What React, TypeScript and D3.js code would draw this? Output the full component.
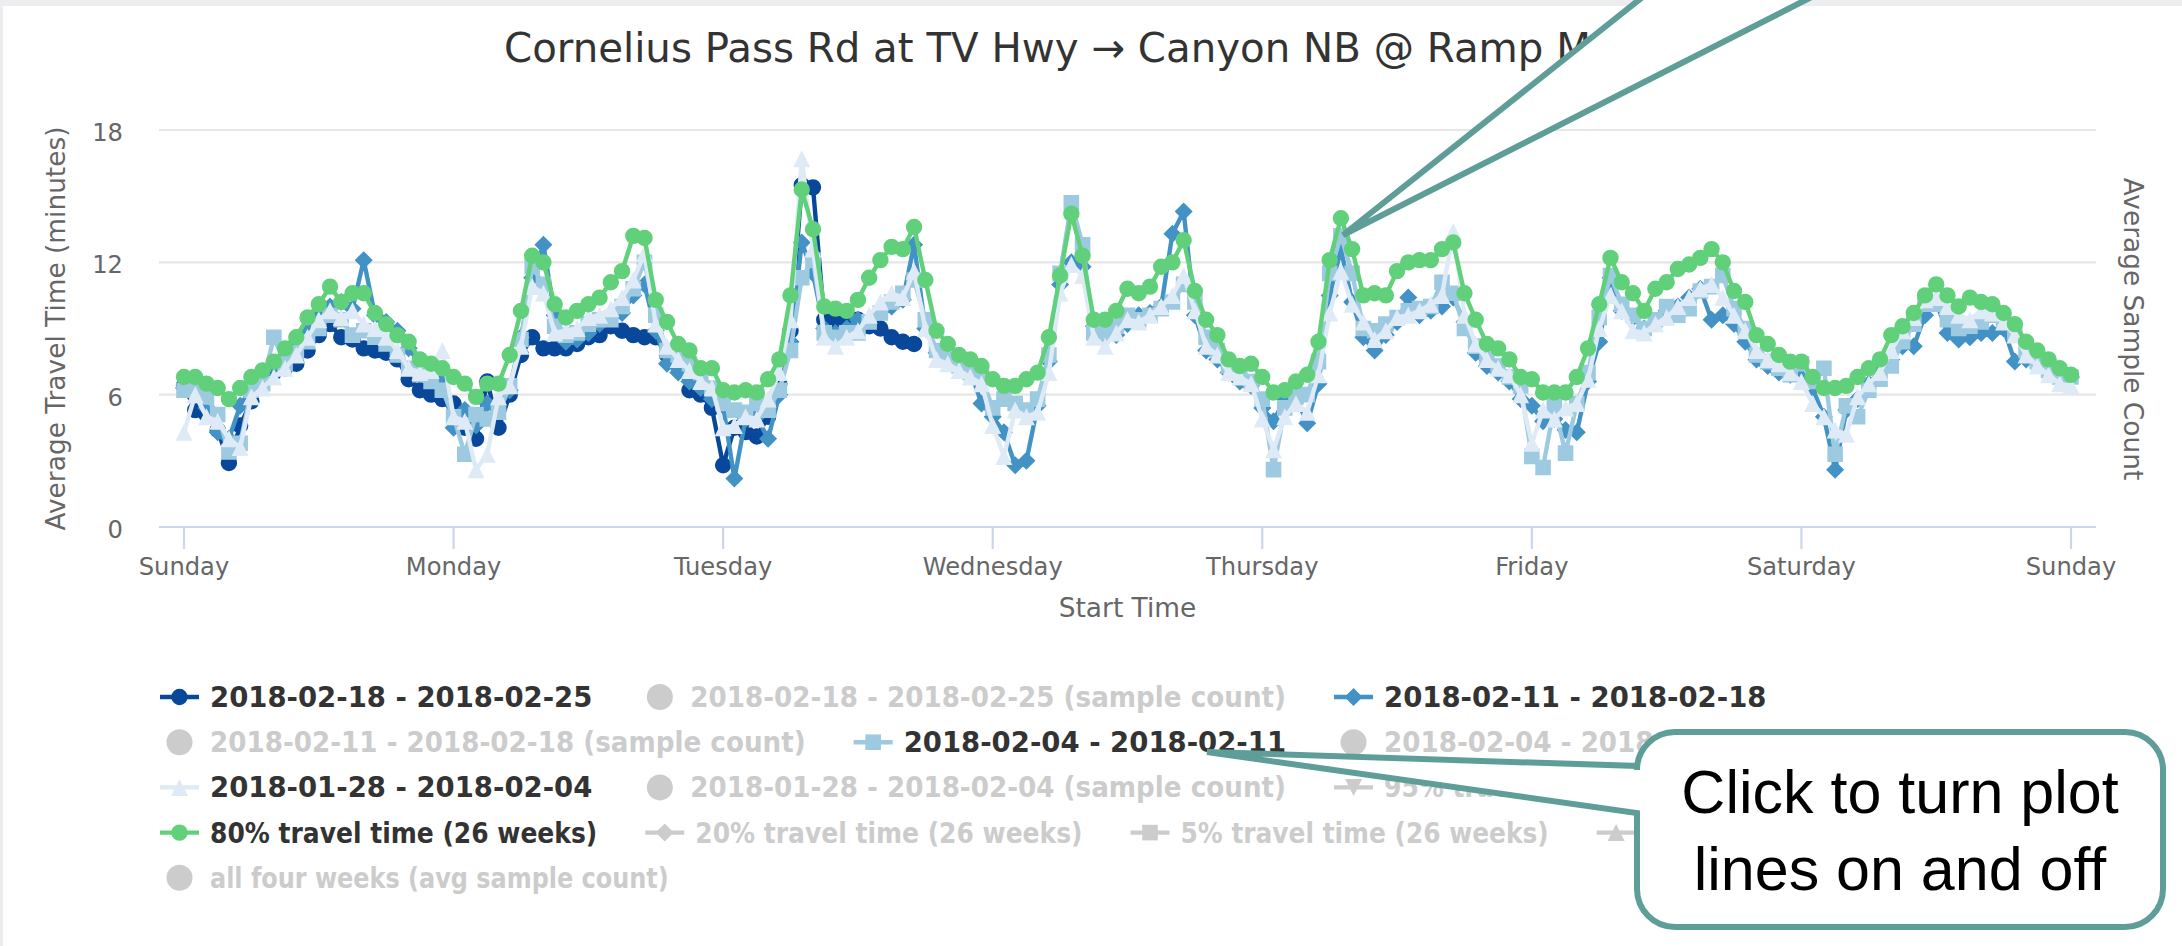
import React from "react";
import * as d3 from "d3";

// ---------------- data ----------------
const dayLabels = ["Sunday", "Monday", "Tuesday", "Wednesday", "Thursday", "Friday", "Saturday", "Sunday"];
const dayTickHours = [0, 24, 48, 72, 96, 120, 144, 168];
const yTickValues = [0, 6, 12, 18];

// hourly average travel time (minutes), hour 0 = Sunday 00:00
const week_0218_0225 = [
  6.4, 5.3, 5.1, 4.4, 2.9, 4.6, 5.7, 6.8, 7.0, 7.2, 7.4, 8.0, 8.7, 9.2, 8.6, 8.5, 8.1, 8.0, 7.9, 7.6, 6.7, 6.2, 6.0, 5.8,
  5.6, 4.5, 4.0, 6.6, 4.5, 6.0, 7.8, 8.6, 8.1, 8.1, 8.1, 8.3, 8.6, 8.7, 9.1, 8.9, 8.7, 8.6, 8.6, 7.8, 7.3, 6.2, 6.0, 5.4,
  2.8, 4.5, 4.3, 4.1, 5.0, 6.5, 8.9, 15.5, 15.4, 9.4, 9.3, 9.2, 9.4, 9.1, 9.0, 8.6, 8.4, 8.3,
];
const week_0211_0218 = [
  6.3, 6.0, 5.4, 4.3, 4.0, 5.5, 6.3, 6.9, 7.3, 7.7, 8.4, 9.0, 9.6, 10.0, 10.2, 9.9, 12.1, 9.6, 9.3, 8.9, 8.1, 7.4, 7.0, 6.6,
  4.5, 5.3, 4.6, 5.6, 5.3, 6.2, 8.6, 11.3, 12.8, 9.6, 8.4, 8.5, 8.8, 9.2, 9.5, 9.7, 10.5, 11.0, 8.9, 7.4, 7.0, 6.6, 6.3, 5.8,
  5.5, 2.2, 4.9, 5.0, 4.0, 6.0, 8.4, 12.9, 11.5, 9.0, 8.8, 9.0, 9.4, 9.4, 9.8, 10.0, 10.3, 12.8, 9.0, 7.9, 7.6, 7.4, 7.1, 5.6,
  5.0, 4.3, 2.8, 3.0, 5.5, 7.5, 11.0, 12.0, 11.8, 9.1, 8.6, 8.7, 9.2, 9.6, 9.7, 10.0, 13.3, 14.3, 9.6, 8.0, 7.6, 7.0, 6.6, 6.4,
  5.4, 4.8, 5.8, 5.9, 4.7, 6.5, 10.5, 12.6, 10.2, 8.6, 8.0, 8.7, 9.3, 10.4, 9.6, 9.8, 10.0, 10.4, 9.3, 7.9, 7.3, 7.0, 6.6, 5.8,
  5.5, 4.8, 4.9, 4.4, 4.3, 6.6, 8.4, 11.3, 9.8, 9.5, 9.0, 9.3, 9.8, 10.0, 10.4, 10.8, 9.4, 9.6, 9.2, 8.4, 7.6, 7.3, 7.0, 6.9,
  6.8, 6.3, 5.0, 2.6, 5.3, 5.8, 6.5, 7.1, 7.6, 8.2, 8.2, 9.6, 10.2, 8.8, 8.5, 8.6, 8.8, 8.8, 9.0, 7.5, 7.6, 7.4, 7.1, 6.8, 6.8,
];
const week_0204_0211 = [
  6.2, 6.3, 5.9, 5.1, 3.4, 3.8, 6.2, 6.5, 8.6, 7.4, 7.9, 8.4, 9.0, 9.6, 9.4, 8.7, 8.9, 8.6, 8.3, 7.8, 7.2, 6.9, 6.6, 6.2,
  5.0, 3.3, 5.1, 4.9, 5.2, 6.4, 8.5, 11.8, 11.0, 9.1, 8.7, 8.8, 9.2, 9.4, 9.4, 10.0, 10.8, 12.0, 9.6, 8.0, 7.8, 7.4, 7.0, 6.3,
  5.6, 5.3, 5.2, 5.6, 5.3, 6.2, 8.0, 11.3, 12.1, 8.8, 8.6, 8.8, 8.8, 9.3, 9.7, 10.2, 10.6, 11.2, 9.4, 8.0, 7.6, 7.3, 7.0, 6.8,
  5.4, 5.8, 5.6, 5.3, 5.8, 7.8, 11.5, 14.7, 12.8, 8.8, 8.8, 9.1, 9.6, 9.4, 9.6, 9.9, 10.2, 11.0, 10.2, 8.6, 8.0, 7.3, 7.0, 6.6,
  5.8, 2.6, 5.4, 5.9, 6.0, 7.5, 11.5, 13.2, 11.5, 9.0, 8.9, 9.2, 9.5, 9.8, 9.9, 10.0, 11.1, 10.6, 9.0, 8.2, 7.6, 7.3, 6.8, 6.4,
  3.2, 2.7, 5.5, 3.35, 5.6, 7.0, 9.5, 11.4, 10.1, 9.6, 9.0, 9.4, 10.0, 9.6, 9.9, 10.7, 10.9, 11.4, 9.9, 9.0, 7.8, 7.5, 7.2, 6.9,
  7.4, 6.6, 7.2, 3.3, 5.5, 5.0, 6.2, 6.7, 7.3, 8.4, 9.2, 10.1, 10.1, 9.4, 9.0, 9.1, 9.3, 9.6, 9.4, 8.8, 8.0, 7.5, 7.1, 6.8, 6.8,
];
const week_0128_0204 = [
  4.3, 6.0, 5.0, 4.8, 4.0, 3.6, 5.9, 6.3, 6.8, 7.2, 7.8, 8.6, 9.4, 9.8, 9.5, 9.8, 9.2, 9.0, 8.6, 8.0, 7.2, 7.0, 7.1, 8.0,
  5.0, 4.8, 2.6, 3.3, 5.9, 6.4, 8.2, 10.9, 10.6, 8.8, 8.9, 9.0, 9.5, 9.6, 9.9, 10.4, 11.2, 12.4, 9.2, 8.2, 7.6, 7.1, 6.6, 6.3,
  4.5, 4.6, 5.0, 4.9, 5.8, 7.0, 9.4, 16.7, 12.6, 8.6, 8.2, 8.6, 8.9, 9.6, 10.2, 10.6, 10.4, 11.6, 9.0, 7.6, 7.4, 7.1, 6.8, 6.5,
  4.6, 3.2, 5.3, 5.0, 5.2, 7.0, 10.6, 11.9, 11.4, 8.6, 8.2, 8.8, 9.4, 9.3, 9.6, 10.0, 10.5, 11.4, 9.8, 8.2, 7.8, 7.0, 6.8, 6.5,
  4.9, 3.5, 5.0, 5.6, 5.2, 6.9, 9.7, 11.6, 10.1, 9.3, 8.5, 8.9, 9.5, 9.6, 9.8, 10.1, 10.5, 13.4, 9.6, 8.3, 7.6, 7.2, 6.9, 6.0,
  3.8, 5.3, 4.9, 5.4, 5.6, 6.7, 9.0, 10.5, 9.8, 8.9, 8.8, 9.2, 9.5, 10.0, 10.4, 10.8, 11.0, 10.4, 9.6, 8.9, 8.0, 7.6, 7.4, 7.0,
  6.6, 5.6, 5.0, 4.4, 4.2, 5.9, 6.5, 7.0, 8.0, 8.9, 9.5, 10.3, 10.4, 10.0, 9.6, 9.4, 9.8, 9.7, 9.3, 8.7, 7.8, 7.3, 6.9, 6.5, 6.4,
];
const travel80_26wk = [
  6.8, 6.8, 6.5, 6.3, 5.8, 6.3, 6.8, 7.1, 7.5, 8.1, 8.6, 9.5, 10.1, 10.9, 10.2, 10.6, 10.6, 9.7, 9.2, 8.7, 8.4, 7.6, 7.4, 7.2,
  6.8, 6.5, 5.9, 6.5, 6.5, 7.8, 9.8, 12.3, 12.0, 10.1, 9.5, 9.8, 10.1, 10.4, 11.1, 11.6, 13.2, 13.1, 10.3, 9.3, 8.3, 8.0, 7.2, 7.2,
  6.2, 6.1, 6.2, 6.1, 6.7, 7.6, 10.5, 15.3, 13.5, 10.0, 9.9, 9.8, 10.3, 11.3, 12.1, 12.7, 12.6, 13.6, 11.2, 8.9, 8.3, 7.8, 7.6, 7.3,
  6.7, 6.4, 6.4, 6.7, 7.0, 8.6, 11.4, 14.2, 12.3, 9.4, 9.4, 9.8, 10.8, 10.6, 10.9, 11.8, 12.0, 13.0, 10.7, 9.4, 8.7, 7.6, 7.3, 7.4,
  6.8, 6.1, 6.2, 6.6, 6.9, 8.4, 12.1, 14.0, 12.6, 10.5, 10.6, 10.5, 11.6, 12.0, 12.1, 12.1, 12.6, 12.9, 10.6, 9.4, 8.3, 8.1, 7.6, 6.8,
  6.7, 6.1, 6.1, 6.1, 6.8, 8.1, 10.1, 12.2, 11.1, 10.6, 9.8, 10.8, 11.1, 11.7, 11.9, 12.2, 12.6, 12.0, 10.7, 10.2, 8.7, 8.3, 7.8, 7.5,
  7.5, 6.8, 6.3, 6.3, 6.4, 6.8, 7.2, 7.6, 8.7, 9.1, 9.7, 10.5, 11.0, 10.5, 10.0, 10.4, 10.2, 10.1, 9.7, 9.2, 8.4, 8.0, 7.6, 7.2, 6.9,
];

const legendLabels = [
  "2018-02-18 - 2018-02-25",
  "2018-02-18 - 2018-02-25 (sample count)",
  "2018-02-11 - 2018-02-18",
  "2018-02-11 - 2018-02-18 (sample count)",
  "2018-02-04 - 2018-02-11",
  "2018-02-04 - 2018-02-11 (sample count)",
  "2018-01-28 - 2018-02-04",
  "2018-01-28 - 2018-02-04 (sample count)",
  "95% travel time (26 weeks)",
  "80% travel time (26 weeks)",
  "20% travel time (26 weeks)",
  "5% travel time (26 weeks)",
  "avg travel time (4 weeks)",
  "all four weeks (avg sample count)",
];

// ---------------- styling ----------------
const W = 2182;
const H = 946;
const NAVY = "#08479a";
const BLUE = "#4292c6";
const LIGHT = "#9ecae1";
const PALE = "#deebf7";
const GREEN = "#60d07a";
const HIDDEN = "#cccccc";
const TEAL = "#5f9e98";
const FONT = '"DejaVu Sans", "Lucida Grande", "Lucida Sans Unicode", Verdana, sans-serif';
const CALLOUT_FONT = '"Liberation Sans", Arial, Helvetica, sans-serif';

const plotLeft = 159;
const plotRight = 2096;
const x = d3.scaleLinear().domain([0, 168]).range([184, 2071]);
const y = d3.scaleLinear().domain([0, 18]).range([527, 130]);

type Sym = "circle" | "diamond" | "square" | "triangle" | "triangle-down";

function markerPath(sym: Sym, cx: number, cy: number): string {
  switch (sym) {
    case "circle": {
      const r = 8.2;
      return `M${cx - r},${cy}a${r},${r} 0 1,0 ${2 * r},0a${r},${r} 0 1,0 ${-2 * r},0Z`;
    }
    case "diamond": {
      const r = 9;
      return `M${cx},${cy - r}L${cx + r},${cy}L${cx},${cy + r}L${cx - r},${cy}Z`;
    }
    case "square": {
      const r = 7.8;
      return `M${cx - r},${cy - r}h${2 * r}v${2 * r}h${-2 * r}Z`;
    }
    case "triangle": {
      const r = 8.5;
      return `M${cx},${cy - r}L${cx + r},${cy + r}L${cx - r},${cy + r}Z`;
    }
    case "triangle-down": {
      const r = 8.5;
      return `M${cx - r},${cy - r}L${cx + r},${cy - r}L${cx},${cy + r}Z`;
    }
  }
  return "";
}

const plotted: { data: number[]; color: string; symbol: Sym }[] = [
  { data: week_0218_0225, color: NAVY, symbol: "circle" },
  { data: week_0211_0218, color: BLUE, symbol: "diamond" },
  { data: week_0204_0211, color: LIGHT, symbol: "square" },
  { data: week_0128_0204, color: PALE, symbol: "triangle" },
  { data: travel80_26wk, color: GREEN, symbol: "circle" },
];

type LegendItem = { label: string; kind: "line" | "column"; symbol?: Sym; color?: string; visible: boolean };
const legendItems: LegendItem[] = [
  { label: legendLabels[0], kind: "line", symbol: "circle", color: NAVY, visible: true },
  { label: legendLabels[1], kind: "column", visible: false },
  { label: legendLabels[2], kind: "line", symbol: "diamond", color: BLUE, visible: true },
  { label: legendLabels[3], kind: "column", visible: false },
  { label: legendLabels[4], kind: "line", symbol: "square", color: LIGHT, visible: true },
  { label: legendLabels[5], kind: "column", visible: false },
  { label: legendLabels[6], kind: "line", symbol: "triangle", color: PALE, visible: true },
  { label: legendLabels[7], kind: "column", visible: false },
  { label: legendLabels[8], kind: "line", symbol: "triangle-down", visible: false },
  { label: legendLabels[9], kind: "line", symbol: "circle", color: GREEN, visible: true },
  { label: legendLabels[10], kind: "line", symbol: "diamond", visible: false },
  { label: legendLabels[11], kind: "line", symbol: "square", visible: false },
  { label: legendLabels[12], kind: "line", symbol: "triangle", visible: false },
  { label: legendLabels[13], kind: "column", visible: false },
];
const legendRows = [[0, 1, 2], [3, 4, 5], [6, 7, 8], [9, 10, 11, 12], [13]];

const LEGEND_FONT_SIZE = 27.5;
const LETTER_NARROWING = 0.85; // original face: wide figures, narrower lower-case

function splitRuns(text: string): { t: string; letters: boolean }[] {
  const parts = text.split(/([A-Za-z]+)/).filter((p) => p.length > 0);
  return parts.map((p) => ({ t: p, letters: /^[A-Za-z]+$/.test(p) }));
}

let measureCtx: CanvasRenderingContext2D | null = null;
function ctx(): CanvasRenderingContext2D | null {
  if (!measureCtx) {
    const c = document.createElement("canvas");
    measureCtx = c.getContext("2d");
  }
  return measureCtx;
}
function naturalWidth(text: string): number {
  const c = ctx();
  if (!c) return text.length * 16;
  c.font = `bold ${LEGEND_FONT_SIZE}px "DejaVu Sans"`;
  return c.measureText(text).width;
}
function modelWidth(text: string): number {
  let w = 0;
  for (const r of splitRuns(text)) {
    const nw = naturalWidth(r.t);
    w += r.letters ? nw * LETTER_NARROWING : nw;
  }
  return w;
}

function Legend() {
  const x0 = 160;
  const symW = 39;
  const pad = 11;
  const gap = 48;
  const rowY0 = 697;
  const rowStep = 45.2;
  const out: React.ReactNode[] = [];
  legendRows.forEach((row, ri) => {
    let cx = x0;
    const cy = rowY0 + ri * rowStep;
    row.forEach((idx) => {
      const it = legendItems[idx];
      const col = it.visible ? it.color || "#333" : HIDDEN;
      const mid = cx + symW / 2;
      const target = modelWidth(it.label);
      const nat = naturalWidth(it.label);
      const squeeze = target < nat - 1;
      out.push(
        <g key={idx}>
          {it.kind === "line" ? (
            <>
              <line x1={cx} x2={cx + symW} y1={cy} y2={cy} stroke={col} strokeWidth={4.4} />
              <path d={markerPath(it.symbol as Sym, mid, cy)} fill={col} />
            </>
          ) : (
            <circle cx={mid} cy={cy} r={13} fill={HIDDEN} />
          )}
          <text
            x={cx + symW + pad}
            y={cy + 10}
            fontFamily={FONT}
            fontWeight="bold"
            fontSize={LEGEND_FONT_SIZE}
            fill={it.visible ? "#333333" : HIDDEN}
            {...(squeeze ? { textLength: target, lengthAdjust: "spacingAndGlyphs" } : {})}
          >
            {it.label}
          </text>
        </g>
      );
      cx += symW + pad + target + gap;
    });
  });
  return <g>{out}</g>;
}

export default function App() {
  const line = d3
    .line<number>()
    .x((_, i) => x(i))
    .y((d) => y(d));

  // bottom callout geometry
  const bx0 = 1637, bx1 = 2163, by0 = 732, by1 = 927, br = 38;
  const bottomCallout =
    `M${bx0 + br},${by0}H${bx1 - br}A${br},${br} 0 0 1 ${bx1},${by0 + br}` +
    `V${by1 - br}A${br},${br} 0 0 1 ${bx1 - br},${by1}H${bx0 + br}` +
    `A${br},${br} 0 0 1 ${bx0},${by1 - br}V813L1207,752L${bx0},766V${by0 + br}` +
    `A${br},${br} 0 0 1 ${bx0 + br},${by0}Z`;
  const topCallout = "M1664,-20L1343,235L1845,-20Z";

  return (
    <div style={{ position: "absolute", left: 0, top: 0, width: W, height: H }}>
      <svg width={W} height={H} viewBox={`0 0 ${W} ${H}`} style={{ display: "block" }}>
        <rect x={0} y={0} width={W} height={H} fill="#ebedef" />
        <rect x={3} y={6} width={W - 3} height={H - 6} fill="#ffffff" />

        {/* title */}
        <text x={504} y={62} fontFamily={FONT} fontSize={40.3} fill="#333333">
          Cornelius Pass Rd at TV Hwy → Canyon NB @ Ramp Meter
        </text>

        {/* gridlines */}
        {yTickValues.map((v) =>
          v === 0 ? null : (
            <line key={v} x1={plotLeft} x2={plotRight} y1={y(v)} y2={y(v)} stroke="#e6e6e6" strokeWidth={2.2} />
          )
        )}
        {/* x axis */}
        <line x1={plotLeft} x2={plotRight} y1={y(0)} y2={y(0)} stroke="#ccd6eb" strokeWidth={2.2} />
        {dayTickHours.map((h) => (
          <line key={h} x1={x(h)} x2={x(h)} y1={y(0)} y2={y(0) + 22} stroke="#ccd6eb" strokeWidth={2.2} />
        ))}
        {dayTickHours.map((h, i) => (
          <text key={h} x={x(h)} y={575} textAnchor="middle" fontFamily={FONT} fontSize={24.2} fill="#666666">
            {dayLabels[i]}
          </text>
        ))}
        {yTickValues.map((v) => (
          <text key={v} x={123} y={y(v) + 11} textAnchor="end" fontFamily={FONT} fontSize={24.2} fill="#666666">
            {v}
          </text>
        ))}
        <text x={1127.5} y={617} textAnchor="middle" fontFamily={FONT} fontSize={26.4} fill="#666666">
          Start Time
        </text>
        <text
          transform={`translate(55,328.5) rotate(-90)`}
          textAnchor="middle"
          dominantBaseline="central"
          fontFamily={FONT}
          fontSize={26.4}
          fill="#666666"
        >
          Average Travel Time (minutes)
        </text>
        <text
          transform={`translate(2133,329) rotate(90)`}
          textAnchor="middle"
          dominantBaseline="central"
          fontFamily={FONT}
          fontSize={26.4}
          fill="#666666"
        >
          Average Sample Count
        </text>

        {/* series */}
        {plotted.map((s, si) => (
          <g key={si}>
            <path
              d={line(s.data) || ""}
              fill="none"
              stroke={s.color}
              strokeWidth={4.4}
              strokeLinejoin="round"
              strokeLinecap="round"
            />
            <path d={s.data.map((v, i) => markerPath(s.symbol, x(i), y(v))).join("")} fill={s.color} />
          </g>
        ))}

        <Legend />

        {/* annotation callouts */}
        <path d={topCallout} fill="#ffffff" stroke={TEAL} strokeWidth={6} strokeLinejoin="miter" />
        <path d={bottomCallout} fill="#ffffff" stroke={TEAL} strokeWidth={6} strokeLinejoin="miter" />
        <text x={1900} y={813} textAnchor="middle" fontFamily={CALLOUT_FONT} fontSize={61} fill="#000000">
          Click to turn plot
        </text>
        <text x={1900} y={890} textAnchor="middle" fontFamily={CALLOUT_FONT} fontSize={61} fill="#000000">
          lines on and off
        </text>
      </svg>
    </div>
  );
}
